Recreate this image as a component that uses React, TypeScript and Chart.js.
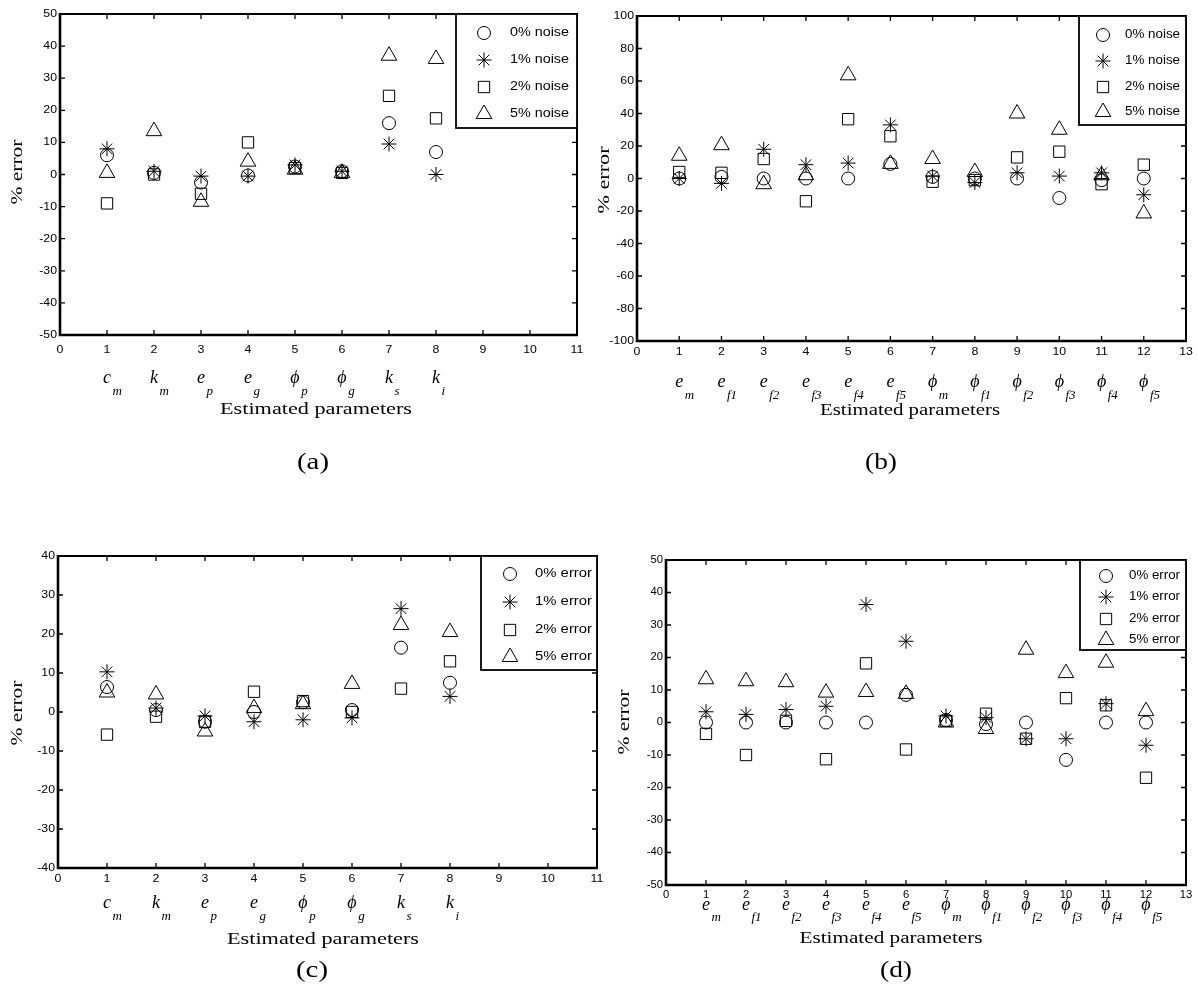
import React, { useEffect, useRef } from 'react';
import { Chart, registerables } from 'chart.js';
import { drawPoint } from 'chart.js/helpers';

Chart.register(...registerables);

const W = 1197;
const H = 995;

// ---------- data ----------
const catsAC = [1, 2, 3, 4, 5, 6, 7, 8];
const catsBD = [1, 2, 3, 4, 5, 6, 7, 8, 9, 10, 11, 12];

const xTicksAC = [0, 1, 2, 3, 4, 5, 6, 7, 8, 9, 10, 11];
const xTicksBD = [0, 1, 2, 3, 4, 5, 6, 7, 8, 9, 10, 11, 12, 13];
const yTicksA = [-50, -40, -30, -20, -10, 0, 10, 20, 30, 40, 50];
const yTicksB = [-100, -80, -60, -40, -20, 0, 20, 40, 60, 80, 100];
const yTicksC = [-40, -30, -20, -10, 0, 10, 20, 30, 40];
const yTicksD = [-50, -40, -30, -20, -10, 0, 10, 20, 30, 40, 50];

const paramsAC = [['c', 'm'], ['k', 'm'], ['e', 'p'], ['e', 'g'], ['ϕ', 'p'], ['ϕ', 'g'], ['k', 's'], ['k', 'i']];
const paramsBD = [['e', 'm'], ['e', 'f1'], ['e', 'f2'], ['e', 'f3'], ['e', 'f4'], ['e', 'f5'], ['ϕ', 'm'], ['ϕ', 'f1'], ['ϕ', 'f2'], ['ϕ', 'f3'], ['ϕ', 'f4'], ['ϕ', 'f5']];

const legendNoise = ['0% noise', '1% noise', '2% noise', '5% noise'];
const legendError = ['0% error', '1% error', '2% error', '5% error'];

// (a)
const a0 = [6, 0.5, -2.5, -0.3, 2.5, 1, 16, 7];
const a1 = [8, 1, -0.5, -0.5, 3, 1, 9.5, 0];
const a2 = [-9, 0, -6, 10, 2, 0.5, 24.5, 17.5];
const a5 = [0.5, 13.5, -8.5, 4, 1.5, 0.5, 37, 36];
// (b)
const b0 = [0, 1, 0, 0, 0, 9, 1, 0, 0, -12, -1, 0];
const b1 = [0, -3, 18, 8.5, 9.5, 33, 1.5, -2.5, 3.5, 1.5, 3.5, -10];
const b2 = [4, 3.5, 12, -14, 36.5, 26, -2, -1, 13, 16.5, -3.5, 8.5];
const b5 = [14, 20.5, -3.5, 2, 63.5, 9, 12, 4, 40, 30, 2, -21.5];
// (c)
const c0 = [6.4, 0.5, -2.5, 0, 2.5, 0.5, 16.5, 7.5];
const c1 = [10.3, 1, -1, -2.5, -2, -1.5, 26.5, 4];
const c2 = [-5.8, -1.2, -2.5, 5.2, 2.8, 0, 6, 13];
const c5 = [5, 4.5, -5, 1, 2, 7.2, 22.3, 20.5];
// (d)
const d0 = [0, 0, 0, 0, 0, 8.5, 0.8, -0.5, 0, -11.5, 0, 0];
const d1 = [3.3, 2.5, 4, 5, 36.3, 25, 2, 1.5, -5, -5, 5.8, -7];
const d2 = [-3.5, -10, 0.5, -11.3, 18.2, -8.3, 0.5, 2.7, -5, 7.5, 5.3, -17];
const d5 = [13.3, 12.7, 12.4, 9.2, 9.4, 8.8, 0, -2, 22.4, 15.2, 18.4, 3.5];

// ---------- styles ----------
const MARKERS = [
  { style: 'circle', r: 6.5 },
  { style: 'star', r: 7.5 },
  { style: 'rect', r: 8 },
  { style: 'triangle', r: 9 },
];

const SANS = "'Liberation Sans', Arial, sans-serif";
const SERIF = "'Liberation Serif', 'Times New Roman', serif";

type Box = { l: number; t: number; r: number; b: number };
type Panel = {
  area: Box;
  xMax: number;
  xTicks: number[];
  yTicks: number[];
  cats: number[];
  series: number[][];
  params: string[][];
  legendLabels: string[];
  legend: Box;
  legendRows: number[];
  legendMarkerX: number;
  legendTextX: number;
  legendTextW: number;
  tickFont: number;
  xTickY: number;
  paramY: number;
  subDy: number;
  titleX: number;
  titleY: number;
  titleW: number;
  caption: string;
  capX: number;
  capY: number;
  ylabX: number;
  ylabY: number;
  ylabW: number;
};

const PANELS: Panel[] = [
  {
    area: { l: 60, t: 14, r: 577, b: 335 }, xMax: 11, xTicks: xTicksAC, yTicks: yTicksA,
    cats: catsAC, series: [a0, a1, a2, a5], params: paramsAC, legendLabels: legendNoise,
    legend: { l: 456, t: 14, r: 577, b: 128 }, legendRows: [33, 60, 87, 114],
    legendMarkerX: 484, legendTextX: 510, legendTextW: 59, tickFont: 11,
    xTickY: 350, paramY: 383, subDy: 12, titleX: 316, titleY: 410, titleW: 192,
    caption: '(a)', capX: 313, capY: 463, ylabX: 18, ylabY: 172, ylabW: 65,
  },
  {
    area: { l: 637, t: 16, r: 1186, b: 341 }, xMax: 13, xTicks: xTicksBD, yTicks: yTicksB,
    cats: catsBD, series: [b0, b1, b2, b5], params: paramsBD, legendLabels: legendNoise,
    legend: { l: 1079, t: 16, r: 1186, b: 125 }, legendRows: [35, 61, 87, 112],
    legendMarkerX: 1103, legendTextX: 1125, legendTextW: 55, tickFont: 11,
    xTickY: 352, paramY: 387, subDy: 12, titleX: 910, titleY: 411, titleW: 180,
    caption: '(b)', capX: 881, capY: 463, ylabX: 605, ylabY: 180, ylabW: 67,
  },
  {
    area: { l: 58, t: 556, r: 597, b: 868 }, xMax: 11, xTicks: xTicksAC, yTicks: yTicksC,
    cats: catsAC, series: [c0, c1, c2, c5], params: paramsAC, legendLabels: legendError,
    legend: { l: 481, t: 556, r: 597, b: 670 }, legendRows: [574, 602, 630, 657],
    legendMarkerX: 510, legendTextX: 535, legendTextW: 57, tickFont: 11,
    xTickY: 879, paramY: 908, subDy: 12, titleX: 323, titleY: 940, titleW: 192,
    caption: '(c)', capX: 312, capY: 971, ylabX: 18, ylabY: 713, ylabW: 65,
  },
  {
    area: { l: 666, t: 560, r: 1186, b: 885 }, xMax: 13, xTicks: xTicksBD, yTicks: yTicksD,
    cats: catsBD, series: [d0, d1, d2, d5], params: paramsBD, legendLabels: legendError,
    legend: { l: 1080, t: 560, r: 1186, b: 650 }, legendRows: [576, 597, 619, 640],
    legendMarkerX: 1106, legendTextX: 1129, legendTextW: 51, tickFont: 10,
    xTickY: 895, paramY: 910, subDy: 11, titleX: 891, titleY: 939, titleW: 183,
    caption: '(d)', capX: 896, capY: 971, ylabX: 625, ylabY: 722, ylabW: 65,
  },
];

function text(ctx: CanvasRenderingContext2D, s: string, x: number, y: number, font: string,
  align: CanvasTextAlign, sx = 1, baseline: CanvasTextBaseline = 'middle') {
  ctx.save();
  ctx.font = font;
  ctx.fillStyle = '#000';
  ctx.textAlign = align;
  ctx.textBaseline = baseline;
  ctx.translate(x, y);
  ctx.scale(sx, 1);
  ctx.fillText(s, 0, 0);
  ctx.restore();
}

function fitScale(ctx: CanvasRenderingContext2D, s: string, font: string, w: number) {
  ctx.save();
  ctx.font = font;
  const m = ctx.measureText(s).width;
  ctx.restore();
  return m > 0 ? w / m : 1;
}

function makePlugin(p: Panel) {
  return {
    id: 'decor',
    afterDraw(chart: any) {
      const ctx: CanvasRenderingContext2D = chart.ctx;
      const xs = chart.scales.x;
      const ys = chart.scales.y;
      const { left: l, right: r, top: t, bottom: b } = chart.chartArea;
      ctx.save();
      ctx.strokeStyle = '#000';
      // frame: heavier left/bottom axes
      ctx.lineWidth = 2;
      ctx.beginPath();
      ctx.moveTo(l, t); ctx.lineTo(r, t); ctx.lineTo(r, b);
      ctx.stroke();
      ctx.lineWidth = 2.6;
      ctx.beginPath();
      ctx.moveTo(l, t - 1); ctx.lineTo(l, b); ctx.lineTo(r + 1, b);
      ctx.stroke();
      // ticks
      ctx.lineWidth = 1.3;
      ctx.beginPath();
      p.xTicks.forEach((v) => {
        const px = xs.getPixelForValue(v);
        ctx.moveTo(px, b); ctx.lineTo(px, b - 5);
        ctx.moveTo(px, t); ctx.lineTo(px, t + 5);
      });
      p.yTicks.forEach((v) => {
        const py = ys.getPixelForValue(v);
        ctx.moveTo(l, py); ctx.lineTo(l + 5, py);
        ctx.moveTo(r, py); ctx.lineTo(r - 5, py);
      });
      ctx.stroke();
      // tick labels
      const tf = `${p.tickFont}px ${SANS}`;
      p.yTicks.forEach((v) => {
        text(ctx, String(v), l - 3, ys.getPixelForValue(v), tf, 'right', 1.12);
      });
      p.xTicks.forEach((v) => {
        text(ctx, String(v), xs.getPixelForValue(v), p.xTickY, tf, 'center', 1.12);
      });
      // parameter labels
      const mf = `italic 18px ${SERIF}`;
      const sf = `italic 13px ${SERIF}`;
      p.params.forEach((pr, i) => {
        const px = xs.getPixelForValue(p.cats[i]);
        ctx.save();
        ctx.font = mf;
        const mw = ctx.measureText(pr[0]).width;
        ctx.restore();
        text(ctx, pr[0], px, p.paramY, mf, 'center', 1, 'alphabetic');
        text(ctx, pr[1], px + mw / 2 + 1.5, p.paramY + p.subDy, sf, 'left', 1, 'alphabetic');
      });
      // axis title
      const tfont = `16px ${SERIF}`;
      const tt = 'Estimated parameters';
      text(ctx, tt, p.titleX, p.titleY, tfont, 'center', fitScale(ctx, tt, tfont, p.titleW));
      // caption
      const cfont = `24px ${SERIF}`;
      text(ctx, p.caption, p.capX, p.capY, cfont, 'center', fitScale(ctx, p.caption, cfont, 32));
      // y label
      const yfont = `17px ${SERIF}`;
      const yl = '% error';
      const ysx = fitScale(ctx, yl, yfont, p.ylabW);
      ctx.save();
      ctx.translate(p.ylabX, p.ylabY);
      ctx.rotate(-Math.PI / 2);
      text(ctx, yl, 0, 0, yfont, 'center', ysx);
      ctx.restore();
      // legend
      const L = p.legend;
      ctx.fillStyle = '#fff';
      ctx.fillRect(L.l, L.t, L.r - L.l, L.b - L.t);
      ctx.lineWidth = 1.8;
      ctx.strokeRect(L.l, L.t, L.r - L.l, L.b - L.t);
      const lf = `12px ${SANS}`;
      const lsx = fitScale(ctx, p.legendLabels[0], lf, p.legendTextW);
      p.legendLabels.forEach((lab, i) => {
        const y = p.legendRows[i];
        ctx.strokeStyle = '#000';
        ctx.fillStyle = 'rgba(0,0,0,0)';
        ctx.lineWidth = 1;
        drawPoint(ctx, { pointStyle: MARKERS[i].style as any, radius: MARKERS[i].r, rotation: 0, borderWidth: 1 } as any, p.legendMarkerX, y);
        text(ctx, lab, p.legendTextX, y, lf, 'left', lsx);
      });
      ctx.restore();
    },
  };
}

function PanelChart({ p }: { p: Panel }) {
  const ref = useRef<HTMLCanvasElement | null>(null);
  useEffect(() => {
    if (!ref.current) return;
    const yMin = p.yTicks[0];
    const yMax = p.yTicks[p.yTicks.length - 1];
    const chart = new Chart(ref.current, {
      type: 'scatter',
      data: {
        datasets: p.series.map((s, k) => ({
          label: p.legendLabels[k],
          data: p.cats.map((x, i) => ({ x, y: s[i] })),
          pointStyle: MARKERS[k].style as any,
          pointRadius: MARKERS[k].r,
          pointHoverRadius: MARKERS[k].r,
          pointBorderColor: '#000',
          pointBackgroundColor: 'rgba(0,0,0,0)',
          pointBorderWidth: 1,
          showLine: false,
        })),
      },
      options: {
        responsive: false,
        animation: false,
        events: [],
        clip: false as any,
        layout: {
          padding: { left: p.area.l, top: p.area.t, right: W - p.area.r, bottom: H - p.area.b },
        },
        scales: {
          x: { type: 'linear', min: 0, max: p.xMax, display: false },
          y: { type: 'linear', min: yMin, max: yMax, display: false },
        },
        plugins: { legend: { display: false }, tooltip: { enabled: false } },
      },
      plugins: [makePlugin(p)],
    });
    return () => chart.destroy();
  }, [p]);
  return (
    <canvas
      ref={ref}
      width={W}
      height={H}
      style={{ position: 'absolute', left: 0, top: 0, width: W, height: H }}
    />
  );
}

export default function App() {
  return (
    <div style={{ position: 'absolute', left: 0, top: 0, width: W, height: H, background: '#fff', overflow: 'hidden' }}>
      {PANELS.map((p, i) => (
        <PanelChart key={i} p={p} />
      ))}
    </div>
  );
}
